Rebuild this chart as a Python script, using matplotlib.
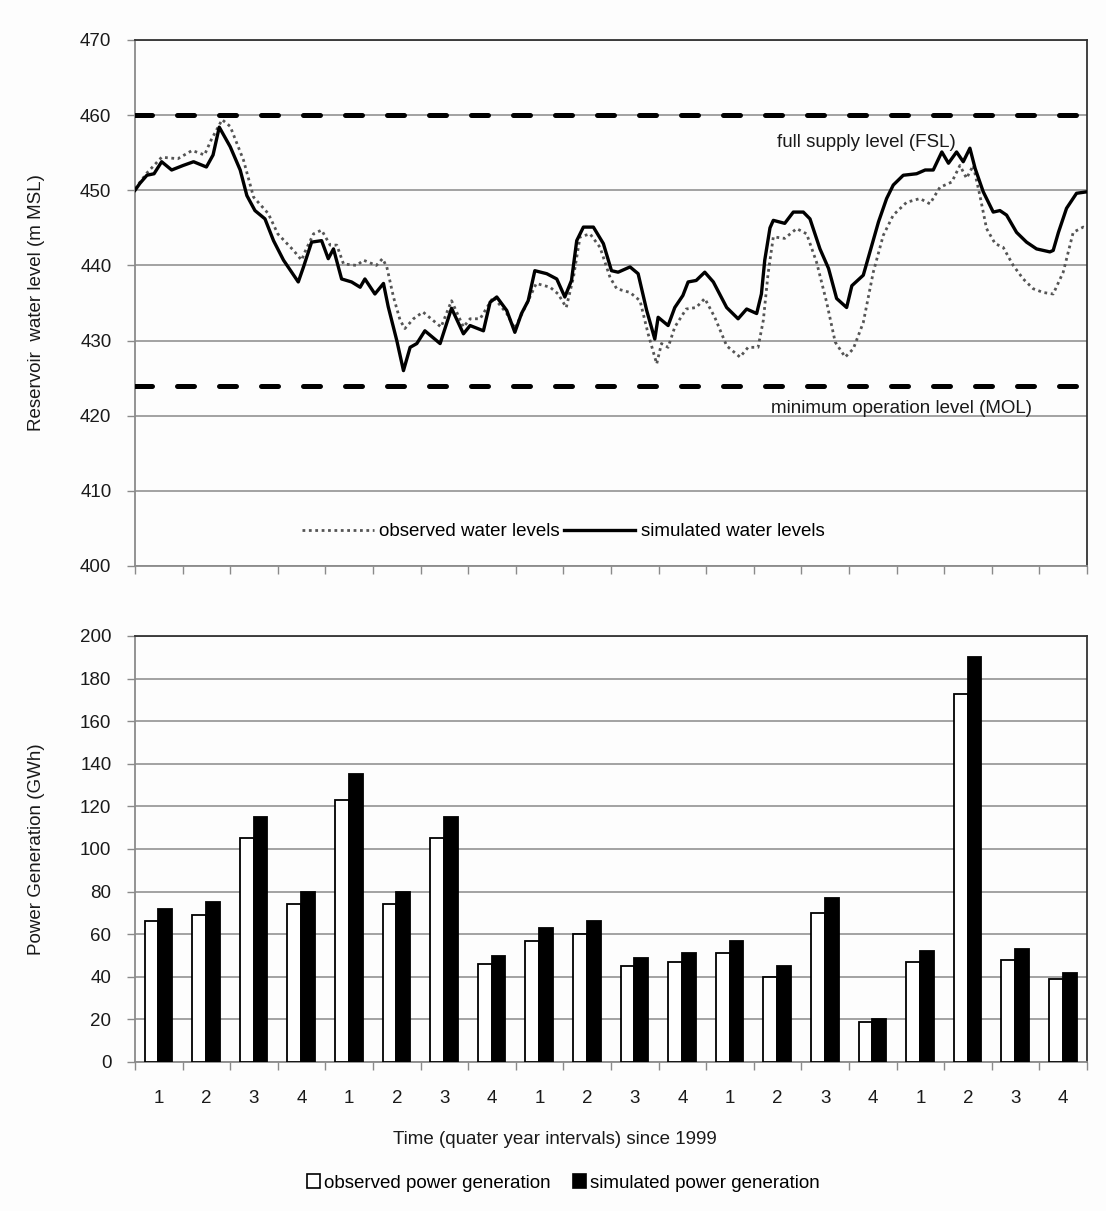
import matplotlib
matplotlib.use("Agg")
import matplotlib.pyplot as plt
from matplotlib.patches import Patch

# ---------------- data ----------------
sim_q = [0, 0.1, 0.25, 0.4, 0.56, 0.77, 1.01, 1.23, 1.5, 1.64, 1.77, 2.0, 2.21, 2.35, 2.52,
         2.73, 2.91, 3.12, 3.43, 3.54, 3.71, 3.92, 4.06, 4.17, 4.34, 4.55, 4.73, 4.83, 5.04,
         5.22, 5.32, 5.5, 5.64, 5.78, 5.92, 6.09, 6.41, 6.65, 6.9, 7.04, 7.32, 7.46, 7.6, 7.81,
         7.98, 8.12, 8.26, 8.4, 8.65, 8.86, 9.03, 9.17, 9.28, 9.42, 9.63, 9.84, 10.01, 10.15,
         10.4, 10.57, 10.75, 10.92, 10.99, 11.2, 11.34, 11.51, 11.62, 11.79, 11.97, 12.15,
         12.43, 12.67, 12.85, 13.06, 13.16, 13.23, 13.34, 13.41, 13.65, 13.83, 14.04, 14.18,
         14.39, 14.57, 14.74, 14.95, 15.06, 15.3, 15.44, 15.62, 15.79, 15.93, 16.14, 16.42,
         16.6, 16.77, 16.95, 17.09, 17.26, 17.4, 17.54, 17.65, 17.82, 18.03, 18.17, 18.31,
         18.52, 18.73, 18.94, 19.22, 19.29, 19.4, 19.57, 19.78, 20.0]
sim_level = [450, 450.9, 452, 452.2, 453.8, 452.7, 453.3, 453.8, 453.1, 454.7, 458.4, 455.8,
             452.7, 449.3, 447.3, 446.2, 443.3, 440.7, 437.8, 439.8, 443.1, 443.3, 440.9, 442.2,
             438.2, 437.8, 437.1, 438.2, 436.2, 437.6, 434.5, 430.0, 426.0, 429.1, 429.6, 431.3,
             429.6, 434.3, 430.9, 432, 431.3, 435.1, 435.8, 434, 431.1, 433.6, 435.3, 439.3,
             438.9, 438.2, 435.8, 438, 443.3, 445.1, 445.1, 442.9, 439.3, 439.1, 439.8, 438.9,
             434, 430.2, 433.1, 432, 434.4, 436, 437.8, 438, 439.1, 437.8, 434.4, 432.9, 434.2,
             433.6, 436.2, 440.7, 445, 446, 445.6, 447.1, 447.1, 446.2, 442.2, 439.6, 435.6,
             434.4, 437.3, 438.7, 441.8, 445.8, 448.9, 450.7, 452, 452.2, 452.7, 452.7, 455.1,
             453.6, 455.1, 453.8, 455.6, 452.9, 449.8, 447.1, 447.3, 446.7, 444.4, 443.1, 442.2,
             441.8, 442, 444.4, 447.6, 449.6, 449.8]

obs_q = [0, 0.25, 0.56, 0.9, 1.2, 1.46, 1.6, 1.83, 2.0, 2.28, 2.49, 2.8, 3.0, 3.33, 3.5, 3.57,
         3.75, 3.92, 4.1, 4.24, 4.38, 4.66, 4.8, 5.07, 5.2, 5.29, 5.43, 5.57, 5.67, 5.85, 6.05,
         6.43, 6.65, 6.9, 7.04, 7.25, 7.53, 7.81, 7.98, 8.23, 8.43, 8.72, 8.89, 9.06, 9.21,
         9.35, 9.56, 9.77, 9.98, 10.12, 10.4, 10.61, 10.78, 10.96, 11.06, 11.2, 11.34, 11.58,
         11.79, 11.97, 12.18, 12.43, 12.71, 12.88, 13.09, 13.2, 13.3, 13.41, 13.65, 13.9,
         14.11, 14.32, 14.53, 14.71, 14.92, 15.09, 15.3, 15.51, 15.72, 15.93, 16.21, 16.49,
         16.7, 16.91, 17.16, 17.33, 17.47, 17.61, 17.75, 17.89, 18.07, 18.24, 18.45, 18.66,
         18.87, 19.08, 19.29, 19.5, 19.71, 19.92, 20.0]
obs_level = [450.2, 452.3, 454.4, 454.2, 455.3, 454.7, 456.7, 459.4, 458.5, 454, 449.1, 446.9,
             444.2, 442, 440.7, 441.8, 444.2, 444.7, 442.7, 442.7, 440.2, 440, 440.7, 440,
             440.9, 439.8, 435.8, 432.7, 431.6, 432.9, 433.8, 431.8, 435.3, 431.8, 432.9, 432.9,
             435.8, 433.6, 431.6, 434.9, 437.6, 437.1, 436.2, 434.4, 438.4, 443.8, 444.2, 442.4,
             438.4, 436.9, 436.4, 435.3, 430.9, 426.9, 429.6, 429.1, 431.8, 434.2, 434.4, 435.6,
             433.1, 429.3, 427.8, 429.1, 429.1, 432.7, 438.9, 443.8, 443.6, 444.9, 444.2, 440.4,
             435.1, 429.8, 427.8, 428.9, 432.4, 439.1, 444, 446.7, 448.4, 448.9, 448.2, 450.4,
             451.1, 453.3, 451.6, 453.3, 449.3, 444.9, 442.9, 442.4, 440, 438.2, 436.9, 436.4,
             436.2, 439.1, 444.4, 445.1, 444.9]

FSL = 460
MOL = 424

quarter_labels = ["1", "2", "3", "4"] * 5
obs_power = [66, 69, 105, 74, 123, 74, 105, 46, 57, 60, 45, 47, 51, 40, 70, 19, 47, 173, 48, 39]
sim_power = [72, 75, 115, 80, 135, 80, 115, 50, 63, 66, 49, 51, 57, 45, 77, 20, 52, 190, 53, 42]

# ---------------- style ----------------
plt.rcParams['font.family'] = ['Liberation Sans', 'DejaVu Sans']
FS = 13.5
GRID = '#8a8a8a'
DARK = '#333333'
BG = '#fdfdfd'
TXT = '#1a1a1a'

fig = plt.figure(figsize=(11.06, 12.11), dpi=100, facecolor=BG)

W, H = 1106, 1211
def box(l, t, r, b):
    return [l / W, 1 - b / H, (r - l) / W, (b - t) / H]

ax1 = fig.add_axes(box(135, 40, 1087, 566))
ax2 = fig.add_axes(box(135, 636, 1087, 1062))

for ax in (ax1, ax2):
    ax.set_facecolor(BG)
    ax.spines['left'].set_color(GRID)
    ax.spines['bottom'].set_color(GRID)
    ax.spines['top'].set_color(DARK)
    ax.spines['right'].set_color(DARK)
    for s in ax.spines.values():
        s.set_linewidth(1.3)
    ax.tick_params(axis='y', direction='out', length=6, width=1, color=GRID,
                   labelsize=FS, pad=11, labelcolor=TXT)
    ax.yaxis.grid(True, color=GRID, linewidth=1.1)
    ax.set_axisbelow(True)
    ax.set_xlim(0, 20)

# ---------------- top chart ----------------
ax1.set_ylim(400, 470)
ax1.set_yticks(range(400, 471, 10))
ax1.set_xticks(range(0, 21))
ax1.tick_params(axis='x', direction='out', length=6, width=1, color=GRID, labelbottom=False)

for lvl in (FSL, MOL):
    ax1.axhline(lvl, color='black', linewidth=3.6, dashes=(3.4, 5.0),
                dash_capstyle='round', zorder=3)

ax1.plot(obs_q, obs_level, color='#555555', linewidth=2.0, linestyle=(0, (1, 1.3)),
         zorder=4, label='observed water levels')
ax1.plot(sim_q, sim_level, color='black', linewidth=2.4, zorder=5,
         label='simulated water levels')

ax1.text(15.36, 456.4, 'full supply level (FSL)', ha='center', va='center', fontsize=FS,
         color=TXT)
ax1.text(16.11, 420.9, 'minimum operation level (MOL)', ha='center', va='center', fontsize=FS,
         color=TXT)

ax1.legend(loc='center', bbox_to_anchor=(0.45, 0.065), ncol=2, frameon=False, fontsize=FS,
           handlelength=3.8, handletextpad=0.3, columnspacing=0.2)

fig.text(37 / W, 1 - 303 / H, 'Reservoir  water level (m MSL)', rotation=90, ha='center',
         va='center', fontsize=FS, color=TXT)

# ---------------- bottom chart ----------------
ax2.set_ylim(0, 200)
ax2.set_yticks(range(0, 201, 20))
centers = [i + 0.5 for i in range(len(obs_power))]
bw = 0.29
ax2.bar([c - bw / 2 - 0.01 for c in centers], obs_power, width=bw, color='white',
        edgecolor='black', linewidth=1.3, zorder=3, label='observed power generation')
ax2.bar([c + bw / 2 - 0.01 for c in centers], sim_power, width=bw, color='black',
        edgecolor='black', linewidth=1.3, zorder=3, label='simulated power generation')

ax2.set_xticks(centers)
ax2.set_xticklabels(quarter_labels)
ax2.set_xticks(range(0, 21), minor=True)
ax2.tick_params(axis='x', which='major', length=0, labelsize=FS, pad=20, labelcolor=TXT)
ax2.tick_params(axis='x', which='minor', direction='out', length=6, width=1, color=GRID)

fig.text(555 / W, 1 - 1139 / H, 'Time (quater year intervals) since 1999', ha='center',
         va='center', fontsize=FS, color=TXT)
fig.text(37 / W, 1 - 849 / H, 'Power Generation (GWh)', rotation=90, ha='center',
         va='center', fontsize=FS, color=TXT)

handles = [Patch(facecolor='white', edgecolor='black', linewidth=1.2),
           Patch(facecolor='black', edgecolor='black', linewidth=1.2)]
fig.legend(handles, ['observed power generation', 'simulated power generation'],
           loc='center', bbox_to_anchor=(563 / W, 1 - 1183 / H), ncol=2, frameon=False,
           fontsize=FS, handlelength=0.7, handleheight=0.7, handletextpad=0.2,
           columnspacing=1.2)

fig.savefig('out.png', dpi=100, facecolor=BG)
